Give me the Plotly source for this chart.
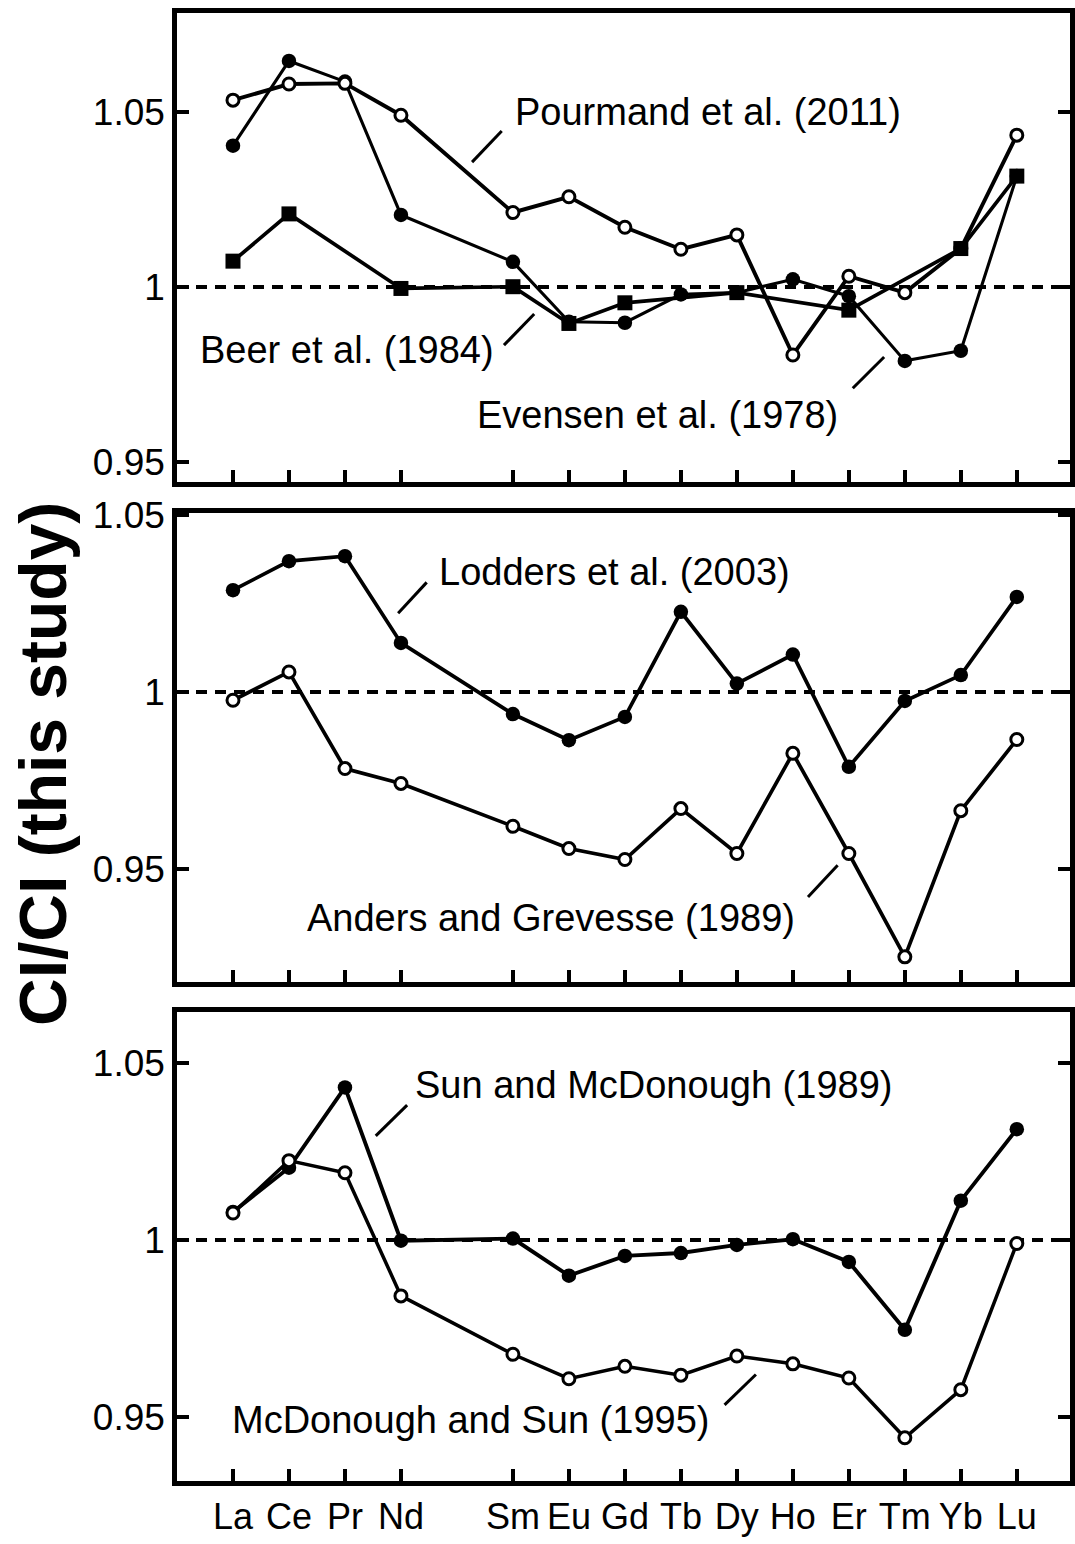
import plotly.graph_objects as go

# ---------------- data ----------------
elements = ["La", "Ce", "Pr", "Nd", "Sm", "Eu", "Gd", "Tb", "Dy", "Ho", "Er", "Tm", "Yb", "Lu"]
atomic_z = [57, 58, 59, 60, 62, 63, 64, 65, 66, 67, 68, 69, 70, 71]

# Panel 1
pourmand_2011 = [1.0534, 1.0580, 1.0582, 1.0491, 1.0213, 1.0258, 1.0171, 1.0108, 1.0149, 0.9806, 1.0031, 0.9984, 1.0110, 1.0434]
evensen_1978 = [1.0404, 1.0646, 1.0587, 1.0206, 1.0072, 0.9901, 0.9898, 0.9979, 0.9984, 1.0022, 0.9974, 0.9789, 0.9818, 1.0317]
beer_elements = ["La", "Ce", "Nd", "Sm", "Eu", "Gd", "Dy", "Er", "Yb", "Lu"]
beer_1984 = [1.0074, 1.0209, 0.9996, 1.0001, 0.9896, 0.9955, 0.9984, 0.9934, 1.0110, 1.0317]

# Panel 2
lodders_2003 = [1.0288, 1.0370, 1.0384, 1.0139, 0.9938, 0.9864, 0.9930, 1.0227, 1.0024, 1.0106, 0.9789, 0.9975, 1.0048, 1.0269]
anders_grevesse_1989 = [0.9977, 1.0057, 0.9784, 0.9742, 0.9621, 0.9558, 0.9527, 0.9671, 0.9544, 0.9827, 0.9544, 0.9252, 0.9665, 0.9866]

# Panel 3
sun_mcdonough_1989 = [1.0079, 1.0204, 1.0431, 0.9998, 1.0004, 0.9899, 0.9955, 0.9963, 0.9986, 1.0002, 0.9938, 0.9746, 1.0111, 1.0313]
mcdonough_sun_1995 = [1.0076, 1.0224, 1.0190, 0.9842, 0.9677, 0.9608, 0.9643, 0.9618, 0.9672, 0.9650, 0.9610, 0.9441, 0.9577, 0.9990]

y_tick_vals = [0.95, 1.0, 1.05]
y_tick_text = ["0.95", "1", "1.05"]
y_title = "CI/CI (this study)"

# series labels: (panel, text, text x, text y, leader x0, y0, x1, y1)
series_labels = [
    (1, "Pourmand et al. (2011)", 62.00, 1.0500, 61.27, 1.0357, 61.80, 1.0446),
    (1, "Beer et al. (1984)", 56.38, 0.9820, 61.84, 0.9834, 62.38, 0.9923),
    (1, "Evensen et al. (1978)", 61.32, 0.9634, 68.07, 0.9711, 68.63, 0.9800),
    (2, "Lodders et al. (2003)", 60.64, 1.0339, 59.95, 1.0223, 60.46, 1.0310),
    (2, "Anders and Grevesse (1989)", 58.29, 0.9362, 67.27, 0.9421, 67.80, 0.9511),
    (3, "Sun and McDonough (1989)", 60.21, 1.0438, 59.55, 1.0294, 60.11, 1.0381),
    (3, "McDonough and Sun (1995)", 56.95, 0.9490, 65.78, 0.9534, 66.34, 0.9620),
]

# ---------------- layout geometry ----------------
W, H = 1075, 1544
FONT = "Liberation Sans, Arial, Helvetica, sans-serif"
x_dom = [177 / W, 1070 / W]
panels = {
    1: dict(top=13, bottom=482, rng=[0.9443, 1.0783]),
    2: dict(top=513, bottom=982, rng=[0.9181, 1.0506]),
    3: dict(top=1012, bottom=1481, rng=[0.9319, 1.0644]),
}
x_range = [56.0, 71.95]
z_of = dict(zip(elements, atomic_z))

fig = go.Figure()

def add_series(panel, xs, ys, kind, width=3.6):
    xa = "x" if panel == 1 else f"x{panel}"
    ya = "y" if panel == 1 else f"y{panel}"
    if kind == "filled":
        marker = dict(symbol="circle", size=14.5, color="black", line=dict(width=0))
    elif kind == "open":
        marker = dict(symbol="circle", size=12, color="white", line=dict(width=3, color="black"))
    else:
        marker = dict(symbol="square", size=15, color="black", line=dict(width=0))
    fig.add_trace(go.Scatter(x=xs, y=ys, mode="lines+markers", xaxis=xa, yaxis=ya,
                             line=dict(color="black", width=width), marker=marker,
                             showlegend=False, hoverinfo="skip"))

# panel 1
add_series(1, atomic_z, evensen_1978, "filled", 3.1)
add_series(1, atomic_z, pourmand_2011, "open", 3.9)
add_series(1, [z_of[e] for e in beer_elements], beer_1984, "square", 3.7)
# panel 2
add_series(2, atomic_z, lodders_2003, "filled", 3.7)
add_series(2, atomic_z, anders_grevesse_1989, "open", 3.7)
# panel 3
add_series(3, atomic_z, sun_mcdonough_1989, "filled", 3.9)
add_series(3, atomic_z, mcdonough_sun_1995, "open", 3.5)

shapes = []
annotations = []
for p, spec in panels.items():
    sfx = "" if p == 1 else str(p)
    dom = [1 - spec["bottom"] / H, 1 - spec["top"] / H]
    fig.layout[f"xaxis{sfx}"] = dict(
        domain=x_dom, range=x_range, anchor=f"y{sfx}", automargin=False,
        tickmode="array", tickvals=atomic_z,
        ticktext=elements if p == 3 else [""] * len(elements),
        showticklabels=(p == 3),
        ticks="inside", ticklen=12, tickwidth=3.8, tickcolor="black",
        showline=True, linewidth=4.5, linecolor="black", mirror=True,
        showgrid=False, zeroline=False,
        tickfont=dict(family=FONT, size=36, color="black"),
    )
    fig.layout[f"yaxis{sfx}"] = dict(
        domain=dom, range=spec["rng"], anchor=f"x{sfx}", automargin=False,
        tickmode="array", tickvals=y_tick_vals, ticktext=y_tick_text,
        ticks="inside", ticklen=12, tickwidth=3.8, tickcolor="black",
        showline=True, linewidth=4.5, linecolor="black", mirror="ticks",
        showgrid=False, zeroline=False,
        tickfont=dict(family=FONT, size=37, color="black"),
    )
    shapes.append(dict(type="line", xref=f"x{sfx} domain", yref=f"y{sfx}",
                       x0=0, x1=1, y0=1.0, y1=1.0, layer="below",
                       line=dict(color="black", width=4, dash="11px,8px")))

for (p, text, tx, ty, lx0, ly0, lx1, ly1) in series_labels:
    sfx = "" if p == 1 else str(p)
    annotations.append(dict(x=tx, y=ty, xref=f"x{sfx}", yref=f"y{sfx}", text=text,
                            showarrow=False, xanchor="left", yanchor="middle",
                            font=dict(family=FONT, size=38, color="black")))
    shapes.append(dict(type="line", xref=f"x{sfx}", yref=f"y{sfx}",
                       x0=lx0, y0=ly0, x1=lx1, y1=ly1,
                       line=dict(color="black", width=3)))

annotations.append(dict(x=43 / W, y=1 - 764 / H, xref="paper", yref="paper",
                        text="<b>" + y_title + "</b>", textangle=-90, showarrow=False,
                        xanchor="center", yanchor="middle",
                        font=dict(family=FONT, size=66, color="black")))

fig.update_layout(template="none", width=W, height=H,
                  margin=dict(l=0, r=0, t=0, b=0, pad=0, autoexpand=False),
                  paper_bgcolor="white", plot_bgcolor="white",
                  shapes=shapes, annotations=annotations, showlegend=False)

# pin the figure to the page corner so the page is exactly the figure size
pin_js = ("document.body.style.margin='0px';"
          "document.body.style.overflow='hidden';"
          "var gd=document.getElementById('{plot_id}');"
          "gd.style.position='absolute';gd.style.left='0px';gd.style.top='0px';")

fig.write_html("out.html", post_script=pin_js, config={"displayModeBar": False})
